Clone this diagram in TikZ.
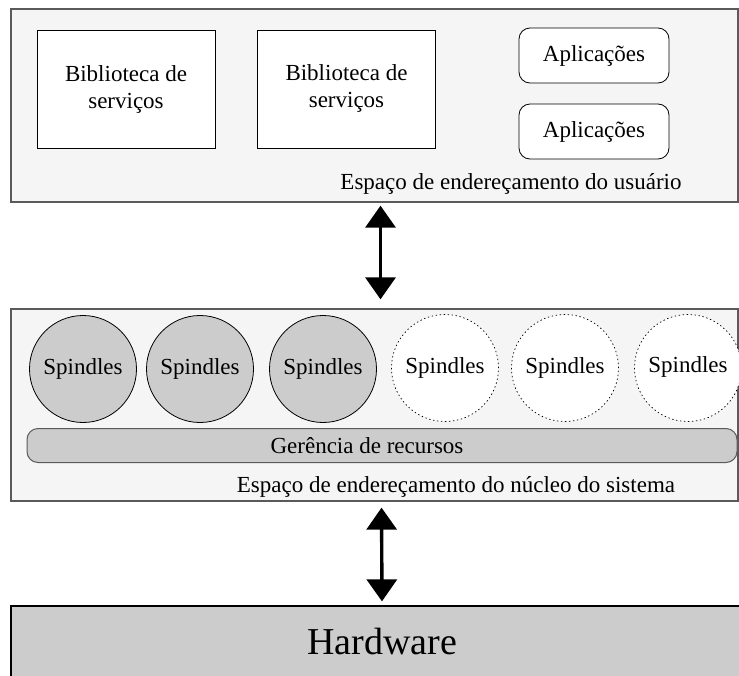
\documentclass[tikz,border=0pt]{standalone}
\usepackage{fontspec}
\setmainfont{Liberation Serif}
\usetikzlibrary{arrows.meta}
\definecolor{pnlgray}{HTML}{F5F5F5}
\definecolor{spgray}{HTML}{CCCCCC}
\definecolor{edgegray}{HTML}{5A5A5A}
\tikzstyle{pnl}=[rectangle,draw=edgegray,line width=1.3pt,fill=pnlgray,inner sep=0pt]
\tikzstyle{bib}=[rectangle,draw=black,line width=0.8pt,fill=white,minimum width=178pt,minimum height=118pt,align=center,inner sep=0pt]
\tikzstyle{app}=[rectangle,rounded corners=11pt,draw=black,line width=0.8pt,fill=white,minimum width=150pt,minimum height=55pt,inner sep=0pt]
\tikzstyle{spf}=[circle,draw=black,line width=0.8pt,fill=spgray,minimum size=107pt,inner sep=0pt]
\tikzstyle{spd}=[circle,draw=black,line width=0.7pt,dash pattern=on 1.4pt off 2.6pt,fill=white,minimum size=107pt,inner sep=0pt]
\tikzstyle{arr}=[{Triangle[width=30pt,length=22pt]}-{Triangle[width=30pt,length=22pt]},line width=3.4pt]

\begin{document}
\begin{tikzpicture}[x=1pt,y=-1pt,font=\fontsize{23}{27}\selectfont]
\useasboundingbox (0,0) rectangle (739,675);
\node[pnl,minimum width=727pt,minimum height=193pt] (user) at (374.5,105.5) {};
\node[pnl,minimum width=727pt,minimum height=192pt] (kernel) at (374.5,405) {};
\node[pnl,draw=black,fill=spgray,minimum width=740pt,minimum height=90pt] (hw) at (381,651) {};
\node (hwtxt) at (382,641) {\fontsize{38}{42}\selectfont Hardware};
\node[bib] (bib1) at (126,89) {Biblioteca de\\serviços};
\node[bib] (bib2) at (346.5,89) {\raisebox{5pt}{\begin{tabular}{@{}c@{}}Biblioteca de\\serviços\end{tabular}}};
\node[app] (app1) at (594,55.5) {Aplicações};
\node[app] (app2) at (594,131.5) {Aplicações};
\node (userlbl) at (511,184) {Espaço de endereçamento do usuário};
\node[spf] (sp1) at (83,369) {Spindles};
\node[spf] (sp2) at (200,369) {Spindles};
\node[spf] (sp3) at (323,369) {Spindles};
\node[spd] (sp4) at (445,368) {Spindles};
\node[spd] (sp5) at (565,368) {\raisebox{3pt}{Spindles}};
\node[spd] (sp6) at (688,368) {\raisebox{6pt}{Spindles}};
\node[rectangle,rounded corners=11pt,draw=edgegray,line width=1pt,fill=spgray,minimum width=710pt,minimum height=34pt] (ger) at (382,445.5) {};
\node (gertxt) at (367,446) {Gerência de recursos};
\node (kernlbl) at (456,487) {Espaço de endereçamento do núcleo do sistema};
\draw[arr,shorten <=3pt,shorten >=9pt] ([xshift=6pt]user.south) -- ([xshift=6pt]kernel.north);
\draw[arr,shorten <=6pt,shorten >=4pt] ([xshift=7pt]kernel.south) -- ([xshift=1pt]hw.north);
\end{tikzpicture}
\end{document}
